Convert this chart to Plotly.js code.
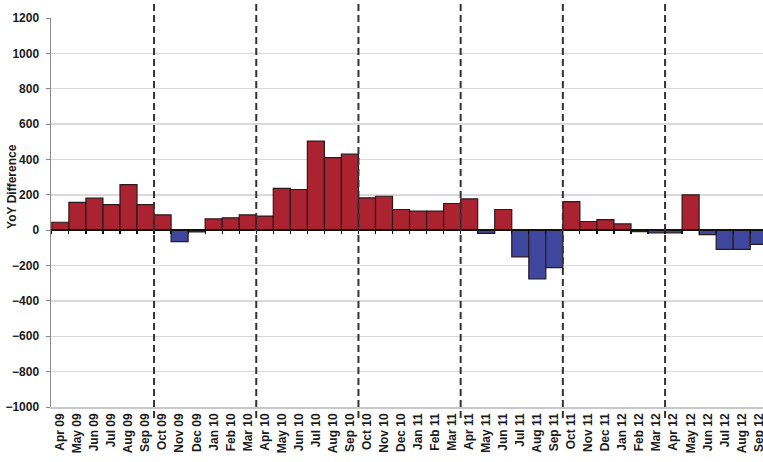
<!DOCTYPE html>
<html>
<head>
<meta charset="utf-8">
<script src="https://cdn.plot.ly/plotly-3.0.1.min.js"></script>
<style>html,body{margin:0;padding:0;background:#fff;}#chart{width:763px;height:462px;}</style>
</head>
<body>
<div id="chart"></div>
<script>
const months = ["Apr 09","May 09","Jun 09","Jul 09","Aug 09","Sep 09","Oct 09","Nov 09","Dec 09","Jan 10","Feb 10","Mar 10",
  "Apr 10","May 10","Jun 10","Jul 10","Aug 10","Sep 10","Oct 10","Nov 10","Dec 10","Jan 11","Feb 11","Mar 11",
  "Apr 11","May 11","Jun 11","Jul 11","Aug 11","Sep 11","Oct 11","Nov 11","Dec 11","Jan 12","Feb 12","Mar 12",
  "Apr 12","May 12","Jun 12","Jul 12","Aug 12","Sep 12"];
const yoyDiff = [45,157,181,145,258,145,87,-65,-10,64,70,87,
  80,236,230,504,410,430,183,192,117,108,108,151,
  177,-18,117,-151,-276,-212,162,49,60,36,-8,-15,
  -15,200,-25,-108,-108,-80];
const periodBreaks = [5.5,11.5,17.5,23.5,29.5,35.5];
const yTicks = [-1000,-800,-600,-400,-200,0,200,400,600,800,1000,1200];

const xIdx = months.map((m,i)=>i);
const colors = yoyDiff.map(v => v >= 0 ? '#AB2230' : '#3F469E');
const boundaries = months.slice(0,-1).map((m,i)=>i+0.5).concat([-0.5, months.length-0.5]);

const font = {family:'"Liberation Sans", Arial, sans-serif', size:12, color:'#1a1a1a', weight:'bold'};

const data = [
  {type:'bar', x:xIdx, y:yoyDiff, marker:{color:colors, line:{color:'#2a1a1c', width:1.2}},
   width:1, hoverinfo:'skip', showlegend:false},
  {type:'scatter', x:[null], y:[null], xaxis:'x2', yaxis:'y', hoverinfo:'skip', showlegend:false}
];

const shapes = periodBreaks.map(b => ({type:'line', xref:'x', yref:'paper', x0:b, x1:b, y0:-0.028, y1:1.05,
  line:{color:'#333333', width:2, dash:'7px,4px'}, layer:'above'}));

const layout = {
  width:763, height:462,
  margin:{l:51, r:0, t:18, b:55},
  paper_bgcolor:'#ffffff', plot_bgcolor:'#ffffff',
  font: font,
  bargap:0,
  xaxis:{range:[-0.55,41.25], tickvals:xIdx, ticktext:months, tickangle:-90, tickfont:font,
    ticklabeloverflow:'allow',
    showgrid:false, zeroline:false, showline:true, linecolor:'#c8c8c8', linewidth:1.5, ticks:'', fixedrange:true},
  xaxis2:{overlaying:'x', anchor:'free', position:1000/2200, range:[-0.55,41.25], side:'bottom',
    tickvals:boundaries, showticklabels:false, ticks:'outside', ticklen:3, tickwidth:1.2, tickcolor:'#111',
    showline:true, linecolor:'#111', linewidth:2, showgrid:false, zeroline:false, layer:'above traces'},
  yaxis:{range:[-1000,1200], tickvals:yTicks, tickfont:font, showgrid:true, gridcolor:'#d9d9d9', gridwidth:1.5,
    zeroline:false, showline:true, linecolor:'#8a8a8a', linewidth:1.5, ticks:'outside', ticklen:4,
    tickcolor:'#8a8a8a', ticklabelstandoff:4, fixedrange:true},
  shapes: shapes,
  annotations:[{text:'YoY Difference', xref:'paper', yref:'paper', x:-0.055, y:0.568, xanchor:'center', yanchor:'middle',
    textangle:-90, showarrow:false, font:font}]
};

Plotly.newPlot('chart', data, layout, {displayModeBar:false, staticPlot:true});
</script>
</body>
</html>
